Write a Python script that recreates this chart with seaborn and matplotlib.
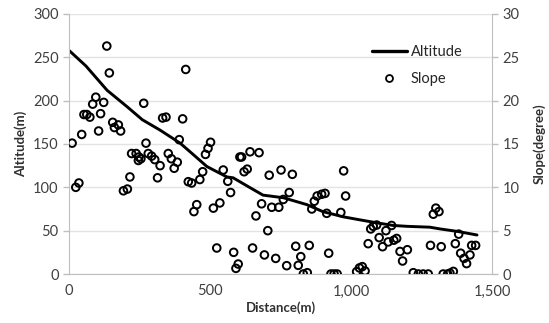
import numpy as np
import pandas as pd
import matplotlib
matplotlib.use('Agg')
import matplotlib.pyplot as plt
import seaborn as sns
from matplotlib.lines import Line2D
from matplotlib.ticker import FuncFormatter

# altitude profile (m) along distance (m)
alt_dist = [0, 60, 135, 206, 260, 323, 394, 440, 489, 560, 582, 640, 688, 760,
            844, 900, 972, 1040, 1092, 1150, 1199, 1280, 1316, 1380, 1447]
altitude = [258, 240, 212, 193, 178, 166, 151, 138, 124, 112, 111, 100, 91, 88,
            80, 72, 66, 62, 59, 56, 55, 54, 52, 49, 45]

# slope (degree) samples
slope_dist = [11, 24, 35, 45, 53, 63, 74, 84, 95, 105, 112, 123, 134, 143, 155, 161,
              175, 183, 193, 207, 216, 222, 238, 246, 248, 255, 265, 273, 281, 293,
              304, 314, 323, 332, 344, 352, 363, 373, 384, 391, 403, 414, 423, 435,
              443, 453, 464, 474, 484, 493, 502, 512, 524, 535, 547, 563, 573, 584,
              592, 600, 606, 612, 621, 632, 642, 651, 663, 674, 683, 693, 705, 710,
              719, 733, 744, 752, 760, 772, 781, 792, 804, 813, 822, 831, 845, 852,
              861, 870, 880, 896, 908, 914, 921, 929, 940, 951, 964, 974, 981, 1020,
              1030, 1040, 1050, 1061, 1070, 1079, 1091, 1100, 1112, 1124, 1132, 1144,
              1152, 1162, 1174, 1183, 1200, 1221, 1239, 1256, 1274, 1282, 1292, 1301,
              1312, 1320, 1327, 1343, 1351, 1363, 1370, 1382, 1389, 1401, 1410, 1422,
              1428, 1442]
slope = [15.1, 10.0, 10.5, 16.1, 18.4, 18.4, 18.1, 19.6, 20.4, 16.5, 18.5, 19.8, 26.3,
         23.2, 17.5, 16.9, 17.2, 16.5, 9.6, 9.8, 11.2, 13.9, 13.9, 13.1, 13.5, 13.3,
         19.7, 15.1, 13.9, 13.6, 13.2, 11.1, 12.5, 18.0, 18.1, 13.9, 13.3, 12.2, 12.9,
         15.5, 17.9, 23.6, 10.65, 10.5, 7.2, 8.0, 10.9, 11.8, 13.8, 14.5, 15.2, 7.6,
         3.0, 8.2, 12.0, 10.7, 9.4, 2.5, 0.65, 1.15, 13.5, 13.5, 11.8, 12.1, 14.1, 3.0,
         6.7, 14.0, 8.1, 2.2, 5.0, 11.4, 7.7, 1.8, 7.7, 12.0, 8.6, 0.96, 9.4, 11.5,
         3.2, 1.0, 2.0, 0.0, 0.15, 3.3, 7.5, 8.4, 9.0, 9.2, 9.3, 7.0, 2.4, 0.0, 0.0,
         0.0, 7.1, 11.9, 9.0, 0.27, 0.7, 0.85, 0.35, 3.5, 5.2, 5.5, 5.65, 4.2, 3.15,
         5.0, 3.7, 5.6, 3.9, 4.1, 2.6, 1.5, 2.8, 0.15, 0.0, 0.0, 0.0, 3.3, 6.9, 7.6,
         7.2, 3.15, 0.0, 0.0, 0.1, 0.3, 3.5, 4.6, 2.4, 1.8, 1.2, 2.2, 3.3, 3.3]

alt_df = pd.DataFrame({'Distance': alt_dist, 'Altitude': altitude})
slope_df = pd.DataFrame({'Distance': slope_dist, 'Slope': slope})

sns.set_style('white')
plt.rcParams['font.family'] = ['Lato', 'DejaVu Sans']
grey = '#bfbfbf'

fig = plt.figure(figsize=(5.49, 3.23), dpi=100)
ax = fig.add_axes([0.1257, 0.1517, 0.7704, 0.805])
ax2 = ax.twinx()

sns.lineplot(data=alt_df, x='Distance', y='Altitude', ax=ax, color='black', linewidth=2.1)
sns.scatterplot(data=slope_df, x='Distance', y='Slope', ax=ax2, marker='o', s=30,
                facecolor='none', edgecolor='black', linewidth=1.4)

ax.set_xlim(0, 1500)
ax.set_ylim(0, 300)
ax2.set_ylim(0, 30)
ax.set_xticks([0, 500, 1000, 1500])
ax.set_yticks(range(0, 301, 50))
ax2.set_yticks(range(0, 31, 5))
ax.xaxis.set_major_formatter(FuncFormatter(lambda v, p: f'{int(v):,}'))
ax.yaxis.grid(True, color='#e3e3e3', linewidth=1)
ax.set_axisbelow(True)

for a in (ax, ax2):
    a.spines['top'].set_visible(False)
    for s in ('left', 'bottom', 'right'):
        a.spines[s].set_color(grey)
    a.tick_params(colors='#404040', labelsize=10.5, length=4, color=grey, width=1)
ax2.spines['left'].set_visible(False)
ax2.spines['bottom'].set_visible(False)
ax.spines['right'].set_visible(False)

ax.set_xlabel('Distance(m)', fontsize=9.5, fontweight='bold', color='#303030', labelpad=2)
ax.set_ylabel('Altitude(m)', fontsize=9.5, fontweight='bold', color='#303030', labelpad=4)
ax2.set_ylabel('Slope(degree)', fontsize=9.5, fontweight='bold', color='#303030', labelpad=10)

handles = [Line2D([], [], color='black', linewidth=2.4),
           Line2D([], [], color='black', marker='o', linestyle='none',
                  markerfacecolor='none', markersize=5, markeredgewidth=1.3)]
ax2.legend(handles, ['Altitude', 'Slope'], loc='upper right', bbox_to_anchor=(0.962, 0.93),
           frameon=False, fontsize=10.5, handlelength=2.4, labelspacing=0.9, handletextpad=0.3)

fig.savefig('out.png', dpi=100)
